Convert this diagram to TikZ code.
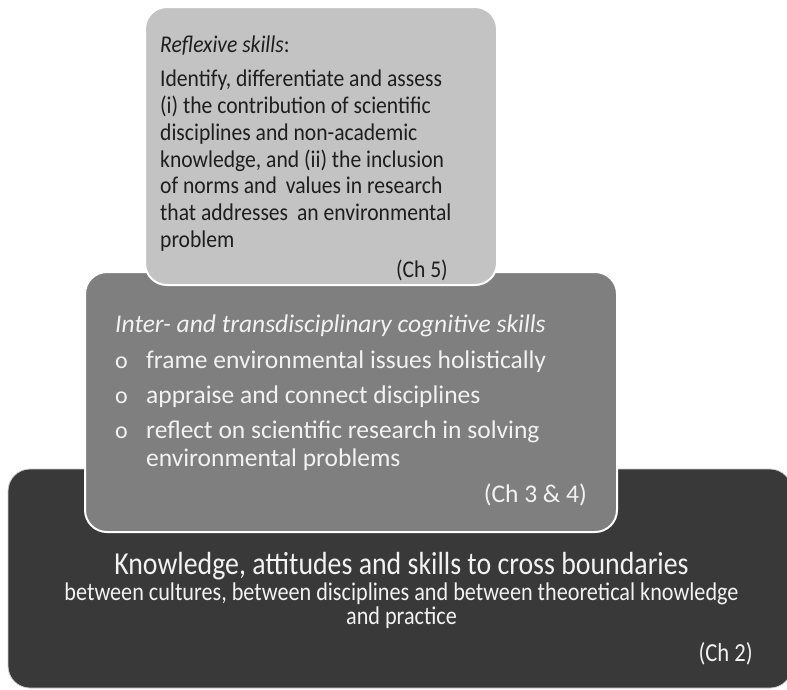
\documentclass[tikz,border=0pt]{standalone}
\usepackage{fontspec}
\setmainfont{Carlito}
\newfontfamily\condfont[FakeStretch=0.87]{Carlito}
\newfontfamily\topfont[FakeStretch=0.9]{Carlito}
\usetikzlibrary{calc}
\definecolor{light_grey}{RGB}{195, 195, 195}
\definecolor{mid_grey}{RGB}{127, 127, 127}
\definecolor{dark_grey}{RGB}{57, 57, 57}
\definecolor{ink_dark}{RGB}{30, 30, 30}
\definecolor{ink_light}{RGB}{242, 242, 242}
\tikzstyle{lbox}=[rectangle,rounded corners=22pt,fill=light_grey,draw=white,
  line width=2pt,inner sep=0pt]
\tikzstyle{mbox}=[rectangle,rounded corners=22pt,fill=mid_grey,draw=white,
  line width=2pt,inner sep=0pt]
\tikzstyle{dbox}=[rectangle,rounded corners=22pt,fill=dark_grey,draw=white!75!dark_grey,
  line width=0.8pt,inner sep=0pt]
\tikzstyle{tl}=[inner sep=0pt,anchor=base west,text=ink_dark,
  font=\topfont\fontsize{24}{27}\selectfont]
\tikzstyle{tm}=[inner sep=0pt,anchor=base west,text=ink_light,
  font=\fontsize{25.5}{27}\selectfont]
\tikzstyle{td}=[inner sep=0pt,anchor=base,text=ink_light]
\tikzstyle{none}=[]

\begin{document}
\begin{tikzpicture}[x=1pt, y=-1pt]
            \useasboundingbox (0, 0) rectangle (787, 689);
            \node [style=dbox, minimum width=784, minimum height=219] (0) at (400, 578.5) {};
            \node [style=mbox, minimum width=532, minimum height=260] (1) at (351, 402) {};
            \node [style=lbox, minimum width=352, minimum height=278] (2) at (321, 146) {};
            \node [style=tl] (3) at (160, 52) {\textit{Reflexive skills}:};
            \node [style=tl] (4) at (160, 86) {Identify, differentiate and assess};
            \node [style=tl] (5) at (160, 113) {(i) the contribution of scientific};
            \node [style=tl] (6) at (160, 140) {disciplines and non-academic};
            \node [style=tl] (7) at (160, 167) {knowledge, and (ii) the inclusion};
            \node [style=tl] (8) at (160, 193) {of norms and\, values in research};
            \node [style=tl] (9) at (160, 220) {that addresses\, an environmental};
            \node [style=tl] (10) at (160, 247) {problem};
            \node [style=tl, anchor=base east] (11) at (448, 277) {(Ch 5)};
            \node [style=tm] (12) at (115, 332) {\textit{Inter- and transdisciplinary cognitive skills}};
            \node [style=tm, font=\fontsize{24}{27}\selectfont] (13) at (115, 368) {o};
            \node [style=tm] (14) at (146, 368) {frame environmental issues holistically};
            \node [style=tm, font=\fontsize{24}{27}\selectfont] (15) at (115, 403) {o};
            \node [style=tm] (16) at (146, 403) {appraise and connect disciplines};
            \node [style=tm, font=\fontsize{24}{27}\selectfont] (17) at (115, 438) {o};
            \node [style=tm] (18) at (146, 438) {reflect on scientific research in solving};
            \node [style=tm] (19) at (146, 466) {environmental problems};
            \node [style=tm, anchor=base east] (20) at (587, 502) {(Ch 3 \& 4)};
            \node [style=td, font=\condfont\fontsize{32}{34}\selectfont] (21) at (401.5, 574) {Knowledge, attitudes and skills to cross boundaries};
            \node [style=td, font=\condfont\fontsize{25.5}{27}\selectfont] (22) at (401.5, 600) {between cultures, between disciplines and between theoretical knowledge};
            \node [style=td, font=\condfont\fontsize{25.5}{27}\selectfont] (23) at (401.5, 624) {and practice};
            \node [style=td, anchor=base east, font=\condfont\fontsize{26}{27}\selectfont] (24) at (753, 661) {(Ch 2)};
    \end{tikzpicture}
\end{document}
